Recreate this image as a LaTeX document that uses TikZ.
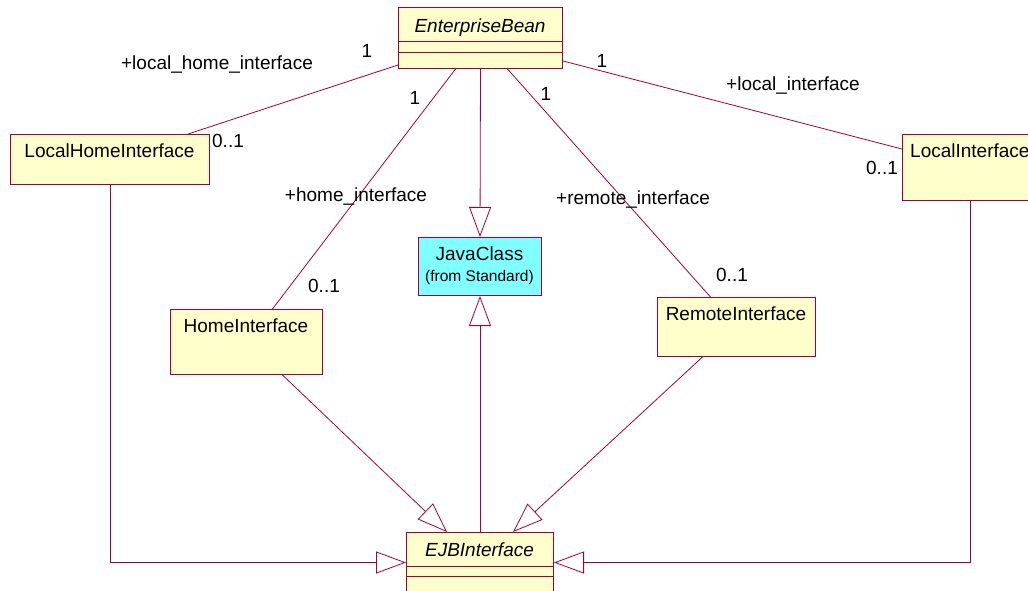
\documentclass[tikz,border=0pt]{standalone}
\usepackage{fontspec}
\setmainfont{Liberation Sans}
\usetikzlibrary{arrows.meta}
\definecolor{umlline}{RGB}{160,0,60}
\definecolor{umlfill}{RGB}{255,255,204}
\definecolor{umlcyan}{RGB}{128,255,255}
\begin{document}
\begin{tikzpicture}[x=1pt,y=-1pt,
  box/.style={draw=umlline, fill=umlfill, line width=1pt, inner sep=0pt, anchor=north west},
  title/.style={font=\fontsize{19}{21}\selectfont, inner sep=0pt, anchor=base},
  role/.style={font=\fontsize{19}{21}\selectfont, inner sep=0pt, anchor=base},
  assoc/.style={draw=umlline, line width=0.8pt},
  gen/.style={assoc, -{Triangle[open, length=30pt, width=22pt]}},
]
\useasboundingbox (0,0) rectangle (1028,590);
\clip (0,0) rectangle (1028,590);

% classes
\node[box, minimum width=164pt, minimum height=61pt] (eb) at (398,7) {};
\draw[draw=umlline, line width=0.8pt] (398,41) -- (562,41) (398,52) -- (562,52);
\node[title, font=\fontsize{19}{21}\selectfont\itshape] (ebt) at (480,32) {EnterpriseBean};

\node[box, minimum width=199pt, minimum height=50pt] (lhi) at (10,134) {};
\node[title] (lhit) at (109.5,157) {LocalHomeInterface};

\node[box, minimum width=136pt, minimum height=66pt] (li) at (902,134) {};
\node[title, anchor=base west] (lit) at (910,157) {LocalInterface};

\node[box, fill=umlcyan, minimum width=123pt, minimum height=58pt] (jc) at (418,237) {};
\node[title] (jct) at (479.5,260) {JavaClass};
\node[title, font=\fontsize{15.5}{17}\selectfont] (jcs) at (479.5,281) {(from Standard)};

\node[box, minimum width=152pt, minimum height=65pt] (hi) at (170,309) {};
\node[title] (hit) at (246,332) {HomeInterface};

\node[box, minimum width=158pt, minimum height=59pt] (ri) at (657,297) {};
\node[title] (rit) at (736,320) {RemoteInterface};

\node[box, minimum width=147pt, minimum height=70pt] (ejb) at (406,532) {};
\draw[draw=umlline, line width=0.8pt] (406,566) -- (553,566) (406,576) -- (553,576);
\node[title, font=\fontsize{19}{21}\selectfont\itshape] (ejbt) at (479.5,556) {EJBInterface};

% associations
\draw[assoc] ([yshift=4pt]eb.south west) -- ([xshift=-22pt]lhi.north east);
\draw[assoc] ([yshift=8pt]eb.south east) -- ([yshift=-15pt]li.north west);
\draw[assoc] ([xshift=-25pt]eb.south) -- ([xshift=26pt]hi.north);
\draw[assoc] ([xshift=27pt]eb.south) -- ([xshift=-26pt]ri.north);

% generalizations
\draw[gen] (eb.south) -- (jc.north);
\draw[gen] (ejb.north) -- (jc.south);
\draw[gen] ([xshift=36pt]hi.south) -- ([xshift=41pt]ejb.north west);
\draw[gen] ([xshift=-34pt]ri.south) -- ([xshift=-41pt]ejb.north east);
\draw[gen] (lhi.south) |- ([yshift=5pt]ejb.west);
\draw[gen] (li.south) |- ([yshift=5pt]ejb.east);

% role names and multiplicities
\node[role] (r1) at (217,69) {+local\_home\_interface};
\node[role] (m1) at (367,57) {1};
\node[role] (m2) at (228,147) {0..1};
\node[role] (r2) at (793,90) {+local\_interface};
\node[role] (m3) at (602,67) {1};
\node[role] (m4) at (882,174) {0..1};
\node[role] (r3) at (356,201) {+home\_interface};
\node[role] (m5) at (415,104) {1};
\node[role] (m6) at (324,292) {0..1};
\node[role] (r4) at (633,204) {+remote\_interface};
\node[role] (m7) at (546,100) {1};
\node[role] (m8) at (732,281) {0..1};
\end{tikzpicture}
\end{document}
